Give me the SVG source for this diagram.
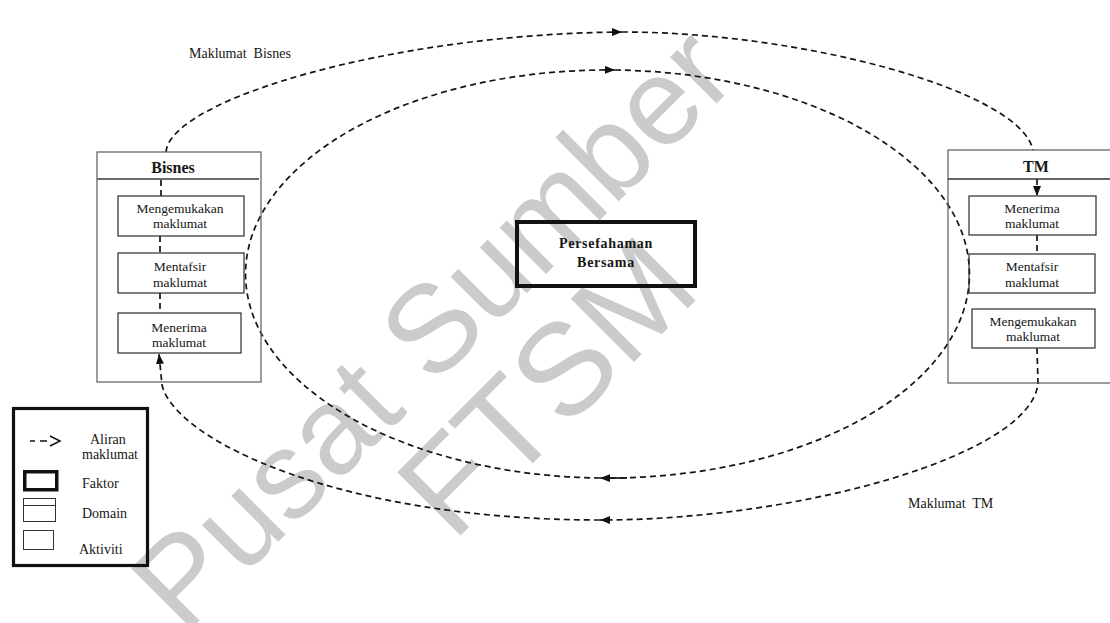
<svg xmlns="http://www.w3.org/2000/svg" width="1110" height="623" viewBox="0 0 1110 623">
  <style>
    .t { font-family: "Liberation Serif", "Times New Roman", serif; fill: #161616; }
    .act { font-size: 13.5px; text-anchor: middle; }
    .ttl { font-size: 16px; font-weight: bold; text-anchor: middle; }
    .lbl { font-size: 14px; }
    .box { fill: none; stroke: #2a2a2a; stroke-width: 1.2; }
    .dom { fill: none; stroke: #5a5a5a; stroke-width: 1.2; }
    .flow { fill: none; stroke: #151515; stroke-width: 1.7; stroke-dasharray: 6 4; }
    .wm { font-family: "Liberation Sans", Arial, sans-serif; fill: #cbcbcb; text-anchor: middle; }
  </style>
  <defs>
    <marker id="ah" viewBox="0 0 10 8" refX="10" refY="4" markerWidth="10" markerHeight="8" markerUnits="userSpaceOnUse" orient="auto">
      <path d="M0,0 L10,4 L0,8 z" fill="#111"/>
    </marker>
  </defs>

  <rect width="1110" height="623" fill="#ffffff"/>

  <!-- background stamp -->
  <g id="watermark">
    <text class="wm" font-size="124" transform="translate(462,358) rotate(-45)">Pusat Sumber</text>
    <text class="wm" font-size="130" transform="translate(578,418) rotate(-45)">FTSM</text>
  </g>

  <!-- information flows -->
  <g id="connectors">
    <!-- inner loop -->
    <path class="flow" d="M600,478 A362,204 0 0 1 615,70" marker-end="url(#ah)"/>
    <path class="flow" d="M615,70 A362,204 0 0 1 600,478" marker-end="url(#ah)"/>
    <line x1="606" y1="478" x2="627" y2="478" stroke="#151515" stroke-width="1.7"/>

    <!-- outer loop: Bisnes to TM -->
    <path class="flow" d="M166,152 C170,100 390,34 622,32" marker-end="url(#ah)"/>
    <path class="flow" d="M622,32 C800,32 1020,90 1033,150"/>
    <path class="flow" d="M1037,179 L1037,196" marker-end="url(#ah)"/>
    <line class="flow" x1="1037" y1="235" x2="1037" y2="254"/>

    <!-- outer loop: TM back to Bisnes -->
    <path class="flow" d="M1037,348 L1038,383 C1032,455 800,520 600,520" marker-end="url(#ah)"/>
    <path class="flow" d="M600,520 C340,520 175,440 162,385 L159,354" marker-end="url(#ah)"/>
    <line class="flow" x1="160" y1="293" x2="160" y2="313"/>
    <line class="flow" x1="160" y1="236" x2="160" y2="253"/>
    <line class="flow" x1="161" y1="180" x2="161" y2="196"/>
  </g>

  <!-- Bisnes domain -->
  <g id="node-bisnes">
    <rect class="dom" x="97" y="152" width="164" height="230"/>
    <line x1="97" y1="179" x2="259" y2="179" stroke="#6a6a6a" stroke-width="2"/>
    <text class="t ttl" x="173" y="173">Bisnes</text>
  </g>
  <g id="node-bisnes-mengemukakan">
    <rect class="box" x="118" y="196" width="126" height="40"/>
    <text class="t act" x="180" y="213">Mengemukakan</text>
    <text class="t act" x="180" y="228">maklumat</text>
  </g>
  <g id="node-bisnes-mentafsir">
    <rect class="box" x="118" y="253" width="126" height="40"/>
    <text class="t act" x="180" y="271">Mentafsir</text>
    <text class="t act" x="180" y="287">maklumat</text>
  </g>
  <g id="node-bisnes-menerima">
    <rect class="box" x="118" y="313" width="123" height="40"/>
    <text class="t act" x="179" y="332">Menerima</text>
    <text class="t act" x="179" y="347">maklumat</text>
  </g>

  <!-- TM domain -->
  <g id="node-tm">
    <rect class="dom" x="948" y="150" width="180" height="233" stroke="#333"/>
    <line x1="948" y1="179" x2="1110" y2="179" stroke="#333" stroke-width="1.6"/>
    <text class="t ttl" x="1036" y="172">TM</text>
  </g>
  <g id="node-tm-menerima">
    <rect class="box" x="969" y="196" width="127" height="39"/>
    <text class="t act" x="1032" y="213">Menerima</text>
    <text class="t act" x="1032" y="228">maklumat</text>
  </g>
  <g id="node-tm-mentafsir">
    <rect class="box" x="969" y="254" width="126" height="39"/>
    <text class="t act" x="1032" y="271">Mentafsir</text>
    <text class="t act" x="1032" y="287">maklumat</text>
  </g>
  <g id="node-tm-mengemukakan">
    <rect class="box" x="972" y="309" width="123" height="39"/>
    <text class="t act" x="1033" y="326">Mengemukakan</text>
    <text class="t act" x="1033" y="341">maklumat</text>
  </g>

  <!-- shared understanding factor -->
  <g id="node-persefahaman">
    <rect x="517" y="222" width="178" height="64" fill="none" stroke="#111" stroke-width="4"/>
    <text class="t" font-size="14" font-weight="bold" text-anchor="middle" letter-spacing="0.7" x="606" y="248">Persefahaman</text>
    <text class="t" font-size="14" font-weight="bold" text-anchor="middle" letter-spacing="0.7" x="606" y="267">Bersama</text>
  </g>

  <!-- flow labels -->
  <g id="labels">
    <text class="t lbl" x="189" y="58" xml:space="preserve">Maklumat  Bisnes</text>
    <text class="t lbl" x="908" y="508" xml:space="preserve">Maklumat  TM</text>
  </g>

  <!-- key -->
  <g id="legend">
    <rect x="13.5" y="408.5" width="134" height="157" fill="none" stroke="#111" stroke-width="3.2"/>
    <line x1="30" y1="441" x2="35" y2="441" stroke="#111" stroke-width="1.5"/>
    <line x1="40" y1="441" x2="47" y2="441" stroke="#111" stroke-width="1.5"/>
    <polyline points="50,436 60,441 50,446" fill="none" stroke="#111" stroke-width="1.5"/>
    <text class="t lbl" x="90" y="444">Aliran</text>
    <text class="t lbl" x="82" y="459">maklumat</text>
    <rect x="24.75" y="471.75" width="32" height="18" fill="none" stroke="#111" stroke-width="3.5"/>
    <text class="t lbl" x="82" y="488">Faktor</text>
    <rect x="23.5" y="498.5" width="32" height="23" fill="none" stroke="#333" stroke-width="1"/>
    <line x1="23.5" y1="505.5" x2="55.5" y2="505.5" stroke="#333" stroke-width="1"/>
    <text class="t lbl" x="82" y="518">Domain</text>
    <rect x="23.5" y="530.5" width="30" height="19" fill="none" stroke="#333" stroke-width="1"/>
    <text class="t lbl" x="79" y="554">Aktiviti</text>
  </g>
</svg>
